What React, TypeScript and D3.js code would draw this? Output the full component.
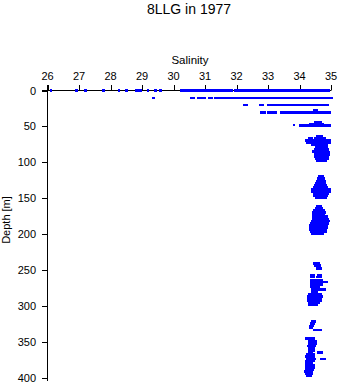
import React from "react";
import * as d3 from "d3";

const salinityTicks = [26, 27, 28, 29, 30, 31, 32, 33, 34, 35];
const depthTicks = [0, 50, 100, 150, 200, 250, 300, 350, 400];

// isolated samples [salinity, depth]
const singlePoints: [number, number][] = [
  [26.11, 0], [26.93, 0], [27.21, 0], [27.78, 0], [28.27, 0], [28.5, 0],
  [28.83, 0], [28.9, 0], [28.97, 0], [29.19, 0], [29.43, 0], [29.59, 0],
  [29.37, 10.5], [33.82, 48], [34.45, 85], [34.26, 69],
];

// dense runs of samples [depth, salinity from, salinity to]
const upperRuns: [number, number, number][] = [
  [0, 30.26, 31.75], [0, 31.83, 31.85], [0, 31.95, 32.9], [0, 32.96, 33.19], [0, 33.25, 34.94],
  [10.5, 30.56, 30.65], [10.5, 30.78, 31.0], [10.5, 31.13, 31.21], [10.5, 31.32, 35.02],
  [20, 32.24, 32.33], [20, 32.75, 32.84], [20, 33.0, 33.22], [20, 33.25, 34.9],
  [30.4, 32.78, 32.9], [30.4, 33.0, 33.25], [30.4, 33.41, 34.97], [27.8, 34.46, 34.55],
  [49, 34.02, 34.97], [46.5, 34.33, 34.75], [44.5, 34.49, 34.66],
];

const clusterA: [number, number, number][] = [
  [64, 34.58, 34.7], [67, 34.3, 34.38], [67, 34.5, 34.8], [70, 34.23, 34.97],
  [73, 34.25, 34.95], [76, 34.4, 34.85], [79, 34.52, 34.85], [82, 34.5, 34.9],
  [86, 34.52, 34.92], [89, 34.5, 34.92], [92, 34.5, 34.9], [95, 34.52, 34.88],
  [98, 34.56, 34.84],
];

const clusterB: [number, number, number][] = [
  [120, 34.63, 34.74], [123, 34.6, 34.76], [126, 34.55, 34.81], [129, 34.53, 34.81],
  [132, 34.5, 34.84], [135, 34.48, 34.86], [138, 34.42, 34.95], [141, 34.4, 34.97],
  [144, 34.46, 34.9], [147, 34.48, 34.86], [150, 34.52, 34.82],
];

const clusterC: [number, number, number][] = [
  [161, 34.56, 34.67], [164, 34.52, 34.7], [167, 34.47, 34.76], [170, 34.43, 34.8],
  [173, 34.45, 34.78], [176, 34.43, 34.85], [179, 34.45, 34.9], [182, 34.42, 34.94],
  [185, 34.38, 34.88], [188, 34.33, 34.86], [191, 34.35, 34.85], [194, 34.33, 34.84],
  [197, 34.37, 34.82], [200, 34.42, 34.74],
];

const clusterD: [number, number, number][] = [
  [241, 34.46, 34.6], [244, 34.5, 34.64], [248, 34.57, 34.67],
  [257, 34.36, 34.44], [257, 34.6, 34.67], [260, 34.37, 34.44], [260, 34.58, 34.66],
  [264, 34.36, 34.72], [267, 34.38, 34.78], [267, 34.8, 34.86], [270, 34.36, 34.7],
  [273, 34.38, 34.62], [277, 34.4, 34.58], [277, 34.66, 34.8], [280, 34.42, 34.56],
  [284, 34.3, 34.66], [287, 34.28, 34.7], [290, 34.27, 34.68], [293, 34.28, 34.66],
  [296, 34.3, 34.62], [299, 34.32, 34.55],
];

const clusterE: [number, number, number][] = [
  [322, 34.4, 34.48], [325, 34.38, 34.46], [328, 34.34, 34.41], [331, 34.34, 34.4],
  [334, 34.46, 34.5], [334, 34.58, 34.66], [346, 34.23, 34.29], [346, 34.38, 34.45],
  [350, 34.3, 34.5], [353, 34.3, 34.52], [356, 34.28, 34.48], [359, 34.3, 34.46],
  [362, 34.32, 34.45], [365, 34.3, 34.4], [365, 34.6, 34.7], [368, 34.24, 34.46],
  [371, 34.22, 34.45], [374, 34.24, 34.47], [374, 34.7, 34.8], [377, 34.22, 34.44],
  [380, 34.2, 34.4], [383, 34.2, 34.46], [386, 34.22, 34.46], [389, 34.2, 34.42],
  [392, 34.19, 34.4], [395, 34.2, 34.38], [398, 34.24, 34.36],
];

const W = 341;
const H = 384;
const FONT = "'Liberation Sans', Arial, sans-serif";
const BLUE = "#0000ff";
const HALF = 1.3;

export default function App() {
  const x = d3.scaleLinear().domain([26, 35]).range([47.5, 331]);
  const y = d3.scaleLinear().domain([0, 400]).range([90.5, 377.5]);

  const runs = [...upperRuns, ...clusterA, ...clusterB, ...clusterC, ...clusterD, ...clusterE];

  return (
    <svg
      width={W}
      height={H}
      style={{ position: "absolute", left: 0, top: 0, background: "#fff" }}
      fontFamily={FONT}
    >
      <text x={189} y={13.5} textAnchor="middle" fontSize={14}>8LLG in 1977</text>
      <text x={190} y={64} textAnchor="middle" fontSize={11.5}>Salinity</text>

      {/* top axis */}
      <line x1={42} x2={x(35)} y1={y(0)} y2={y(0)} stroke="#000" />
      {salinityTicks.map((t) => (
        <g key={"xt" + t}>
          <line x1={Math.round(x(t)) + 0.5} x2={Math.round(x(t)) + 0.5} y1={y(0)} y2={y(0) - 5.5} stroke="#000" />
          <text x={x(t)} y={79.5} textAnchor="middle" fontSize={11}>{t}</text>
        </g>
      ))}

      {/* left axis */}
      <line x1={x(26)} x2={x(26)} y1={85} y2={381} stroke="#000" />
      {depthTicks.map((t) => (
        <g key={"yt" + t}>
          <line x1={42} x2={x(26)} y1={Math.round(y(t)) + 0.5} y2={Math.round(y(t)) + 0.5} stroke="#000" />
          <text x={36} y={y(t) + 4} textAnchor="end" fontSize={11}>{t}</text>
        </g>
      ))}
      <text transform="translate(10,220) rotate(-90)" textAnchor="middle" fontSize={11}>Depth [m]</text>

      {/* data */}
      <g fill={BLUE} shapeRendering="crispEdges">
        {runs.map(([d, s0, s1], i) => (
          <rect
            key={"r" + i}
            x={x(s0) - HALF}
            y={y(d) - HALF}
            width={x(s1) - x(s0) + 2 * HALF}
            height={2 * HALF}
          />
        ))}
        {singlePoints.map(([s, d], i) => (
          <rect key={"p" + i} x={x(s) - HALF} y={y(d) - HALF} width={2 * HALF} height={2 * HALF} />
        ))}
      </g>
    </svg>
  );
}
